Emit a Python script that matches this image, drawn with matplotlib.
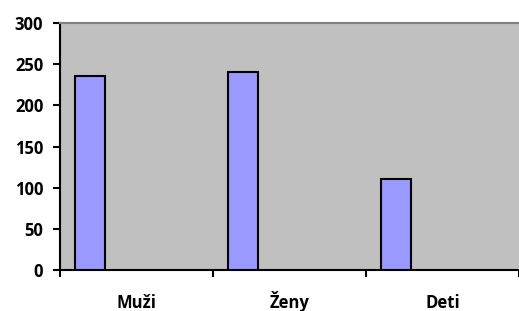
import matplotlib.pyplot as plt
import numpy as np

categories = ['Muži', 'Ženy', 'Deti']
values = [236, 240, 110]
yticks = [0, 50, 100, 150, 200, 250, 300]

plt.rcParams['font.family'] = ['Open Sans', 'DejaVu Sans']
plt.rcParams['font.weight'] = 'bold'

fig = plt.figure(figsize=(5.19, 3.11), dpi=100)
ax = fig.add_axes([0.1156, 0.1318, 0.8844, 0.794])
ax.set_facecolor('#C0C0C0')

x = np.arange(len(categories))
ax.bar(x + 0.098, values, width=0.196, align='edge', color='#9999FF',
       edgecolor='black', linewidth=1.5, zorder=3)

ax.set_xlim(0, 3)
ax.set_ylim(0, 300)
ax.set_yticks(yticks)
ax.set_yticklabels([str(v) for v in yticks], fontsize=12, fontweight='bold')

# category boundaries get the ticks, names sit in the middle
ax.set_xticks(np.arange(len(categories) + 1))
ax.set_xticklabels([])
for i, name in enumerate(categories):
    ax.annotate(name, xy=(i + 0.5, 0), xycoords=('data', 'axes fraction'),
                xytext=(0, -27), textcoords='offset points',
                ha='center', va='baseline', fontsize=12, fontweight='bold')

ax.tick_params(axis='x', length=5, width=1.5, direction='out')
ax.tick_params(axis='y', length=5, width=1.5, direction='out', pad=7)

ax.spines['right'].set_visible(False)
ax.spines['top'].set_color('#808080')
ax.spines['top'].set_linewidth(1.5)
ax.spines['left'].set_linewidth(1.5)
ax.spines['bottom'].set_linewidth(1.5)

fig.savefig('out.png', dpi=100)
